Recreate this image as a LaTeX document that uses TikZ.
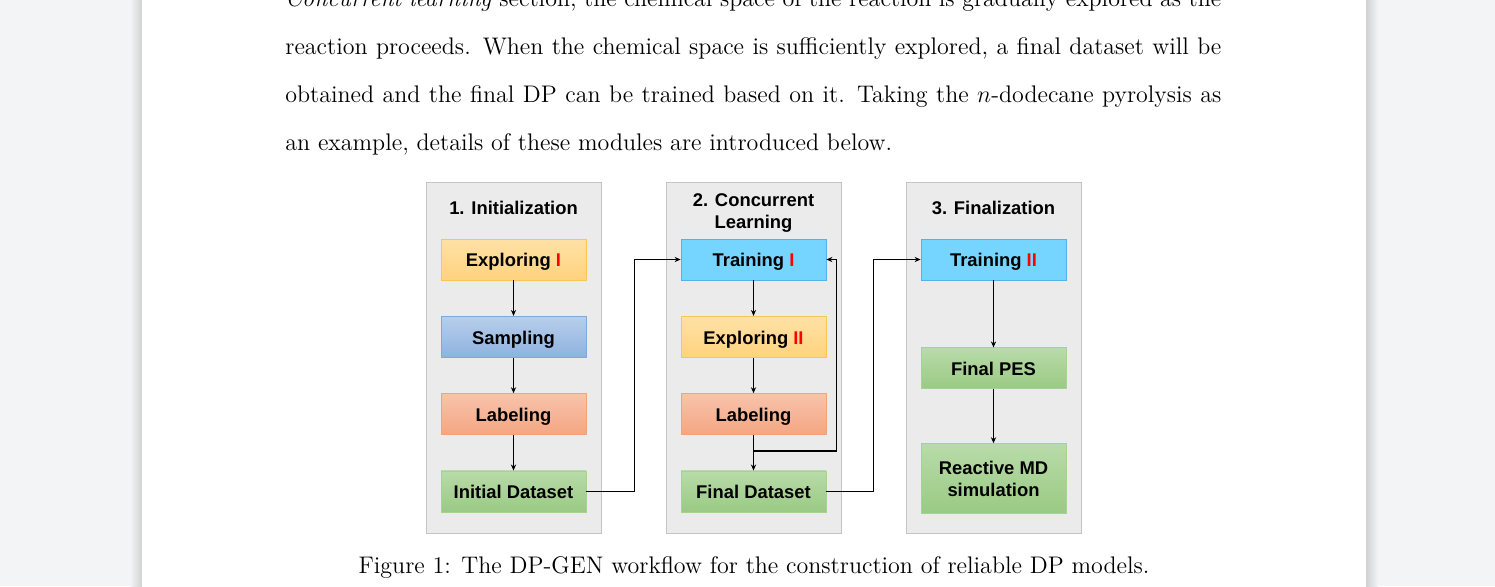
\documentclass[tikz,border=0pt]{standalone}
\usepackage{fontspec}
\usepackage{xcolor}
\usetikzlibrary{positioning, arrows.meta, calc}
\newfontfamily\diagfont{Liberation Sans}
\definecolor{pagebg}{HTML}{F3F4F6}
\definecolor{panelgray}{HTML}{EBEBEB}
\definecolor{panelline}{HTML}{C4C4C4}
\definecolor{exploretop}{HTML}{FFE1A6}
\definecolor{explorebot}{HTML}{FFD37E}
\definecolor{exploreline}{HTML}{F8C656}
\definecolor{sampletop}{HTML}{B8CEEB}
\definecolor{samplebot}{HTML}{8EB2E0}
\definecolor{sampleline}{HTML}{80A8DB}
\definecolor{labeltop}{HTML}{F8C3AB}
\definecolor{labelbot}{HTML}{F4A683}
\definecolor{labelline}{HTML}{F2A27C}
\definecolor{datatop}{HTML}{B9DBA9}
\definecolor{databot}{HTML}{99CA83}
\definecolor{dataline}{HTML}{A6D294}
\definecolor{trainfill}{HTML}{75D5FF}
\definecolor{trainline}{HTML}{52B2EA}
\definecolor{markred}{HTML}{FF0000}

\begin{document}
\begin{tikzpicture}[x=0.5pt, y=-0.5pt,
      node distance=17.75pt,
      every node/.style={align=center},
      body/.style={anchor=base west, inner sep=0pt, font=\fontsize{12}{14.5}\selectfont},
      head/.style={font=\diagfont\bfseries\fontsize{9.2}{11}\selectfont, inner sep=0pt},
      box/.style={draw, line width=0.4pt, minimum width=72.5pt, minimum height=20.5pt, inner sep=0pt,
        text height=7.4pt, text depth=0pt, font=\diagfont\bfseries\fontsize{9.2}{11}\selectfont},
      explorebox/.style={box, top color=exploretop, bottom color=explorebot, draw=exploreline},
      samplebox/.style={box, top color=sampletop, bottom color=samplebot, draw=sampleline},
      labelbox/.style={box, top color=labeltop, bottom color=labelbot, draw=labelline},
      databox/.style={box, top color=datatop, bottom color=databot, draw=dataline},
      trainbox/.style={box, fill=trainfill, draw=trainline},
      panel/.style={fill=panelgray, draw=panelline, line width=0.5pt},
      arr/.style={-{Stealth[length=3pt, width=2.6pt]}, line width=0.85pt}]
    \useasboundingbox (0,0) rectangle (1495,586);
    \clip (0,0) rectangle (1495,586);
    % page and shadow
    \fill[pagebg] (0,0) rectangle (1495,586);
    \shade[left color=pagebg, right color=black!18] (130,0) rectangle (142,586);
    \shade[left color=black!18, right color=pagebg] (1366,0) rectangle (1378,586);
    \fill[white] (142,0) rectangle (1366,586);

    % running text
    \node[body] (line1) at (285,6) {\hbox to 468pt{\textit{Concurrent learning} section, the chemical space of the reaction is gradually explored as the}};
    \node[body] (line2) at (285,54) {\hbox to 468pt{reaction proceeds. When the chemical space is sufficiently explored, a final dataset will be}};
    \node[body] (line3) at (285,102) {\hbox to 468pt{obtained and the final DP can be trained based on it. Taking the $n$-dodecane pyrolysis as}};
    \node[body] (line4) at (285,150) {an example, details of these modules are introduced below.};

    % panels
    \filldraw[panel] (426,182) rectangle (601,533);
    \filldraw[panel] (666,182) rectangle (841,533);
    \filldraw[panel] (906,182) rectangle (1081,533);

    % 1. Initialization
    \node[head] (init) at (513.5,208) {1. Initialization};
    \node[explorebox] (explore1) at (513.5,259.5) {Exploring \textcolor{markred}{I}};
    \node[samplebox, below=of explore1] (sampling) {Sampling};
    \node[labelbox, below=of sampling] (label1) {Labeling};
    \node[databox, below=of label1] (initdata) {Initial Dataset};

    % 2. Concurrent learning
    \node[head] (concur) at (753.5,213) {2. Concurrent\\Learning};
    \node[trainbox] (train1) at (753.5,259.5) {Training \textcolor{markred}{I}};
    \node[explorebox, below=of train1] (explore2) {Exploring \textcolor{markred}{II}};
    \node[labelbox, below=of explore2] (label2) {Labeling};
    \node[databox, below=of label2] (finaldata) {Final Dataset};

    % 3. Finalization
    \node[head] (final) at (993.5,208) {3. Finalization};
    \node[trainbox] (train2) at (993.5,259.5) {Training \textcolor{markred}{II}};
    \node[databox, below=33.5pt of train2] (finalpes) {Final PES};
    \node[databox, minimum height=35pt, text height=, text depth=, below=27pt of finalpes] (reactive) {Reactive MD\\simulation};

    % arrows
    \draw[arr] (explore1) -- (sampling);
    \draw[arr] (sampling) -- (label1);
    \draw[arr] (label1) -- (initdata);
    \draw[arr] (initdata.east) -- ++(48,0) |- (train1.west);
    \draw[arr] (train1) -- (explore2);
    \draw[arr] (explore2) -- (label2);
    \draw[arr] (label2) -- (finaldata);
    \coordinate (loop) at ($(label2.south)!0.45!(finaldata.north)$);
    \draw[arr] (loop) -| ($(train1.east)+(10,0)$) -- (train1.east);
    \draw[arr] (finaldata.east) -- ++(47,0) |- (train2.west);
    \draw[arr] (train2) -- (finalpes);
    \draw[arr] (finalpes) -- (reactive);

    % caption
    \node[body, anchor=base] (caption) at (754,573) {Figure 1: The DP-GEN workflow for the construction of reliable DP models.};
  \end{tikzpicture}
\end{document}
